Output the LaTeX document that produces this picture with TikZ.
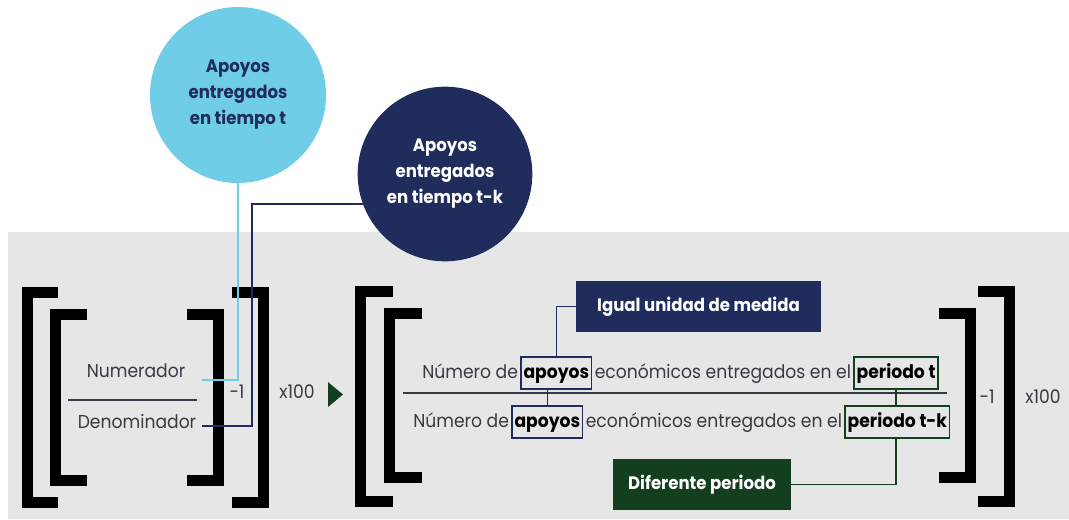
\documentclass[tikz,border=0pt]{standalone}
\usepackage{fontspec}
\setmainfont[FakeStretch=0.92]{Poppins}
\usetikzlibrary{positioning}
\definecolor{fondo}{HTML}{E6E6E6}
\definecolor{celeste}{HTML}{70CDE8}
\definecolor{marino}{HTML}{1F2C5C}
\definecolor{verde}{HTML}{133F1F}
\definecolor{texto}{HTML}{363A45}
\tikzset{
  corchete/.style={line width=8.25pt, miter limit=10},
  linea/.style={texto, line width=2pt},
  palabra/.style={inner sep=0pt, text height=10.5pt, text depth=3pt, font=\fontsize{14}{16}\selectfont, text=texto},
  caja/.style={palabra, draw, line width=1pt, inner xsep=2pt, minimum height=24pt, text=black, font=\fontsize{14}{16}\selectfont\bfseries},
  globo/.style={circle, align=center, font=\fontsize{13.5}{19.5}\selectfont\bfseries},
  etiqueta/.style={align=center, text=white, font=\fontsize{13.5}{16}\selectfont\bfseries},
}
\begin{document}
\begin{tikzpicture}[x=0.75pt,y=-0.75pt]
		\useasboundingbox (0,0) rectangle (1069,519);
		\fill [fondo] (8,232) rectangle (1069,519);
		% circulos
		\node [globo, fill=celeste, text=marino, minimum size=132pt] (ct) at (238,95) {Apoyos\\entregados\\en tiempo t};
		\node [globo, fill=marino, text=white, minimum size=131pt] (ctk) at (445,174) {Apoyos\\entregados\\en tiempo t-k};
		% primera fraccion
		\draw [corchete] (58,292.5) -- (27.5,292.5) -- (27.5,502.5) -- (58,502.5);
		\draw [corchete] (87,314.5) -- (55,314.5) -- (55,480.5) -- (87,480.5);
		\draw [corchete] (187,314.5) -- (218,314.5) -- (218,480.5) -- (187,480.5);
		\draw [corchete] (232,292.5) -- (263.5,292.5) -- (263.5,502.5) -- (232,502.5);
		\node [palabra] (num) at (136,372) {Numerador};
		\node [palabra] (den) at (137,423) {Denominador};
		\draw [linea] (68,400) -- (197,400);
		\node [palabra] (m1) at (237,393) {-1};
		\node [palabra] (p1) at (297,393) {x100};
		\coordinate (finNum) at (202,380);
		\coordinate (codoDen) at (252,426);
		\coordinate (finDen) at (202,426);
		\draw [celeste, line width=1.2pt] (ct.south) |- (finNum);
		\draw [marino, line width=1.2pt] (ctk.200) -| (codoDen) -- (finDen);
		\fill [verde] (328,382) -- (343,394.5) -- (328,407) -- cycle;
		% segunda fraccion
		\draw [corchete] (393,291.5) -- (360.5,291.5) -- (360.5,501.5) -- (393,501.5);
		\draw [corchete] (422,313.5) -- (389.5,313.5) -- (389.5,477.5) -- (422,477.5);
		\draw [corchete] (939,313.5) -- (970.5,313.5) -- (970.5,477.5) -- (939,477.5);
		\draw [corchete] (978,291.5) -- (1009,291.5) -- (1009,501.5) -- (978,501.5);
		\node [palabra, anchor=west] (nA) at (422,373) {Número de};
		\node [caja, draw=marino, right=1.5pt of nA] (apA) {apoyos};
		\node [palabra, right=1.5pt of apA] (eA) {económicos entregados en el};
		\node [caja, draw=verde, right=1.5pt of eA] (pA) {periodo t};
		\draw [linea] (403,393) -- (947,393);
		\node [palabra, anchor=west] (nB) at (413,422) {Número de};
		\node [caja, draw=marino, right=1.5pt of nB] (apB) {apoyos};
		\node [palabra, right=1.5pt of apB] (eB) {económicos entregados en el};
		\node [caja, draw=verde, right=1.5pt of eB] (pB) {periodo t-k};
		\node [palabra] (m2) at (987,398) {-1};
		\node [palabra] (p2) at (1043,398) {x100};
		% recuadros
		\node [etiqueta, fill=marino, minimum width=184pt, minimum height=38pt] (igual) at (698.5,306.5) {Igual unidad de medida};
		\node [etiqueta, fill=verde, minimum width=133.5pt, minimum height=38pt] (dif) at (702,484.5) {Diferente periodo};
		\draw [marino, line width=1pt] (igual.west) -| (apA.north);
		\draw [verde, line width=1pt] (apB.north) -- (apB.north |- apA.south);
		\draw [verde, line width=1pt] (pA.south) -- (pA.south |- pB.north);
		\draw [verde, line width=1pt] (pA.south |- pB.south) |- (dif.east);
		\end{tikzpicture}
\end{document}
